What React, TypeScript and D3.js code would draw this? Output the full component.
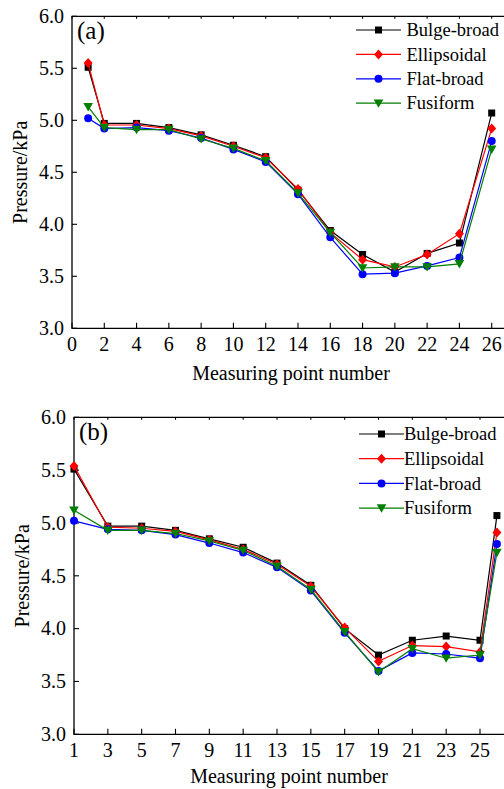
import React from "react";
import * as d3 from "d3";

const seriesNames = ["Bulge-broad", "Ellipsoidal", "Flat-broad", "Fusiform"];
const seriesColors = ["#000000", "#ff0000", "#0000ff", "#007f00"];
const seriesShapes = ["square", "diamond", "circle", "triangle"];

// Panel (a)
const pointsA = [1, 2, 4, 6, 8, 10, 12, 14, 16, 18, 20, 22, 24, 26];
const bulgeA = [5.51, 4.97, 4.97, 4.93, 4.86, 4.76, 4.65, 4.33, 3.94, 3.71, 3.54, 3.72, 3.82, 5.07];
const ellipA = [5.55, 4.955, 4.955, 4.92, 4.85, 4.75, 4.64, 4.34, 3.92, 3.66, 3.59, 3.71, 3.91, 4.92];
const flatA = [5.02, 4.92, 4.93, 4.90, 4.83, 4.72, 4.60, 4.29, 3.875, 3.52, 3.53, 3.60, 3.68, 4.80];
const fusiA = [5.13, 4.93, 4.91, 4.91, 4.82, 4.73, 4.61, 4.30, 3.92, 3.58, 3.59, 3.59, 3.62, 4.72];
const xTicksA = [0, 2, 4, 6, 8, 10, 12, 14, 16, 18, 20, 22, 24, 26];

// Panel (b)
const pointsB = [1, 3, 5, 7, 9, 11, 13, 15, 17, 19, 21, 23, 25, 26];
const bulgeB = [5.51, 4.97, 4.97, 4.93, 4.85, 4.77, 4.62, 4.41, 4.00, 3.75, 3.89, 3.93, 3.89, 5.07];
const ellipB = [5.54, 4.96, 4.95, 4.92, 4.84, 4.75, 4.61, 4.40, 4.01, 3.69, 3.84, 3.83, 3.78, 4.91];
const flatB = [5.02, 4.94, 4.93, 4.89, 4.81, 4.72, 4.58, 4.36, 3.96, 3.60, 3.77, 3.76, 3.72, 4.80];
const fusiB = [5.12, 4.93, 4.93, 4.90, 4.83, 4.74, 4.59, 4.37, 3.97, 3.59, 3.81, 3.72, 3.75, 4.72];
const xTicksB = [1, 3, 5, 7, 9, 11, 13, 15, 17, 19, 21, 23, 25];

const yTicks = [3.0, 3.5, 4.0, 4.5, 5.0, 5.5, 6.0];

const FONT = "'Liberation Serif', 'Times New Roman', serif";

function Marker({ shape, x, y, color }: { shape: string; x: number; y: number; color: string }) {
  if (shape === "square") return <rect x={x - 3.5} y={y - 3.5} width={7} height={7} fill={color} />;
  if (shape === "diamond")
    return <path d={`M${x},${y - 5}L${x + 4.5},${y}L${x},${y + 5}L${x - 4.5},${y}Z`} fill={color} />;
  if (shape === "circle") return <circle cx={x} cy={y} r={4} fill={color} />;
  return <path d={`M${x - 4.8},${y - 3.8}L${x + 4.8},${y - 3.8}L${x},${y + 4.6}Z`} fill={color} />;
}

type PanelProps = {
  label: string;
  points: number[];
  series: number[][];
  xTicks: number[];
  xDomain: [number, number];
  xRange: [number, number];
  top: number;
  bottom: number;
  left: number;
  rightFrame: number;
  legendX: number;
  legendTextX: number;
  legendY: number;
  legendStep: number;
  yTitleX: number;
  xTitleX: number;
  xTitleOffset: number;
};

function Panel(p: PanelProps) {
  const x = d3.scaleLinear().domain(p.xDomain).range(p.xRange);
  const y = d3.scaleLinear().domain([3, 6]).range([p.bottom, p.top]);
  const line = d3
    .line<number>()
    .x((_, i) => x(p.points[i]))
    .y((d) => y(d));
  const midY = (p.top + p.bottom) / 2;
  return (
    <g>
      {/* frame */}
      <path
        d={`M${p.rightFrame},${p.top}H${p.left}V${p.bottom}H${p.rightFrame}`}
        fill="none"
        stroke="#000"
        strokeWidth={1.3}
      />
      {/* y ticks */}
      {yTicks.map((t) => (
        <g key={"y" + t}>
          <line x1={p.left} x2={p.left + 5} y1={y(t)} y2={y(t)} stroke="#000" strokeWidth={1.1} />
          <text
            x={p.left - 8}
            y={y(t)}
            dy="0.34em"
            textAnchor="end"
            fontFamily={FONT}
            fontSize={20}
            fill="#000"
          >
            {t.toFixed(1)}
          </text>
        </g>
      ))}
      {/* x ticks */}
      {p.xTicks.map((t) => (
        <g key={"x" + t}>
          <line x1={x(t)} x2={x(t)} y1={p.bottom} y2={p.bottom - 5.5} stroke="#000" strokeWidth={1.1} />
          <line x1={x(t)} x2={x(t)} y1={p.top} y2={p.top + 2.5} stroke="#000" strokeWidth={1.1} />
          <text
            x={x(t)}
            y={p.bottom + 23}
            textAnchor="middle"
            fontFamily={FONT}
            fontSize={20}
            fill="#000"
          >
            {t}
          </text>
        </g>
      ))}
      {/* titles */}
      <text
        x={p.xTitleX}
        y={p.bottom + p.xTitleOffset}
        textAnchor="middle"
        fontFamily={FONT}
        fontSize={20}
        fill="#000"
      >
        Measuring point number
      </text>
      <text
        transform={`translate(${p.yTitleX},${midY}) rotate(-90)`}
        textAnchor="middle"
        fontFamily={FONT}
        fontSize={20}
        fill="#000"
      >
        Pressure/kPa
      </text>
      <text x={p.left + 5} y={p.top + 23} fontFamily={FONT} fontSize={25} fill="#000">
        {p.label}
      </text>
      {/* series */}
      {p.series.map((vals, si) => (
        <g key={"s" + si}>
          <path d={line(vals) || ""} fill="none" stroke={seriesColors[si]} strokeWidth={1.2} />
          {vals.map((v, i) => (
            <Marker key={i} shape={seriesShapes[si]} x={x(p.points[i])} y={y(v)} color={seriesColors[si]} />
          ))}
        </g>
      ))}
      {/* legend */}
      {seriesNames.map((n, si) => {
        const ly = p.legendY + si * p.legendStep;
        return (
          <g key={"l" + si}>
            <line
              x1={p.legendX}
              x2={p.legendX + 45}
              y1={ly}
              y2={ly}
              stroke={seriesColors[si]}
              strokeWidth={1.2}
            />
            <Marker shape={seriesShapes[si]} x={p.legendX + 22.5} y={ly} color={seriesColors[si]} />
            <text x={p.legendTextX} y={ly} dy="0.33em" fontFamily={FONT} fontSize={18.5} fill="#000">
              {n}
            </text>
          </g>
        );
      })}
    </g>
  );
}

export default function App() {
  return (
    <svg
      width={504}
      height={789}
      style={{ position: "absolute", left: 0, top: 0, background: "#fff" }}
    >
      <rect width={504} height={789} fill="#fff" />
      <Panel
        label="(a)"
        points={pointsA}
        series={[bulgeA, ellipA, flatA, fusiA]}
        xTicks={xTicksA}
        xDomain={[0, 26]}
        xRange={[72, 491.7]}
        top={16.3}
        bottom={328.3}
        left={72}
        rightFrame={508}
        legendX={356}
        legendTextX={406.5}
        legendY={30}
        legendStep={24.4}
        yTitleX={27}
        xTitleX={291}
        xTitleOffset={52}
      />
      <Panel
        label="(b)"
        points={pointsB}
        series={[bulgeB, ellipB, flatB, fusiB]}
        xTicks={xTicksB}
        xDomain={[1, 25]}
        xRange={[74, 480]}
        top={417.3}
        bottom={734.3}
        left={74}
        rightFrame={508}
        legendX={359}
        legendTextX={404}
        legendY={434}
        legendStep={24.7}
        yTitleX={29}
        xTitleX={289}
        xTitleOffset={49}
      />
    </svg>
  );
}
